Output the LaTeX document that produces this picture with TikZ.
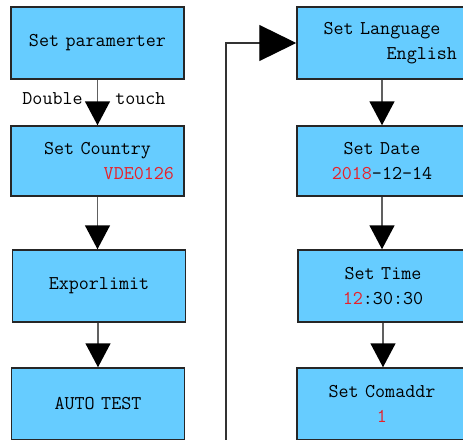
\documentclass[tikz,border=0pt]{standalone}
\usepackage{xcolor}
\usetikzlibrary{arrows.meta}
\definecolor{boxblue}{RGB}{102,204,255}
\definecolor{valred}{RGB}{232,32,40}
\definecolor{linegray}{RGB}{96,96,96}

\begin{document}
\begin{tikzpicture}[
    x=1pt,y=-1pt,
    stepbox/.style={draw=black!85, line width=1.5pt, fill=boxblue, minimum height=72pt, text width=153pt, inner xsep=10pt, inner ysep=0pt, align=center, font=\fontsize{19.5}{25}\selectfont\ttfamily},
    rstepbox/.style={stepbox, text width=150pt},
    flow/.style={draw=linegray, line width=1.6pt, -{Triangle[length=24pt,width=25pt,color=black]}},
    loopline/.style={draw=black!80, line width=1.3pt, -{Triangle[length=37pt,width=36pt,color=black]}},
    lbl/.style={font=\fontsize{19.5}{25}\selectfont\ttfamily, inner sep=0pt}
]
    \useasboundingbox (0,0) rectangle (463,439);

    % Left column
    \node[stepbox] (param) at (97.5, 43) {Set paramerter};
    \node[stepbox, minimum height=70pt] (country) at (97.5, 161) {Set Country\\\hspace*{0pt plus 1filll}\textcolor{valred}{VDE0126}};
    \node[stepbox] (export) at (99, 286) {Exporlimit};
    \node[stepbox] (autotest) at (98, 404) {AUTO TEST};

    % Right column
    \node[rstepbox] (lang) at (382, 43) {Set Language\\\hspace*{0pt plus 1filll}English};
    \node[rstepbox, minimum height=70pt] (date) at (382, 161) {Set Date\\\textcolor{valred}{2018}-12-14};
    \node[rstepbox] (time) at (383, 286) {Set Time\\\textcolor{valred}{12}:30:30};
    \node[rstepbox] (comaddr) at (382, 404) {Set Comaddr\\\textcolor{valred}{1}};

    % Arrows
    \draw[flow] (param) -- node[lbl, pos=0.42, left=14pt] (dbl) {Double} node[lbl, pos=0.42, right=17pt] (tch) {touch} (country);
    \draw[flow] (country) -- (country |- export.north);
    \draw[flow] (autotest |- export.south) -- (autotest);
    \draw[flow] (lang) -- (date);
    \draw[flow] (date) -- (date |- time.north);
    \draw[flow] (time) -- (time |- comaddr.north);

    % Loop back
    \coordinate (loopstart) at (226, 445);
    \draw[loopline] (loopstart) |- (lang.west);

\end{tikzpicture}
\end{document}
